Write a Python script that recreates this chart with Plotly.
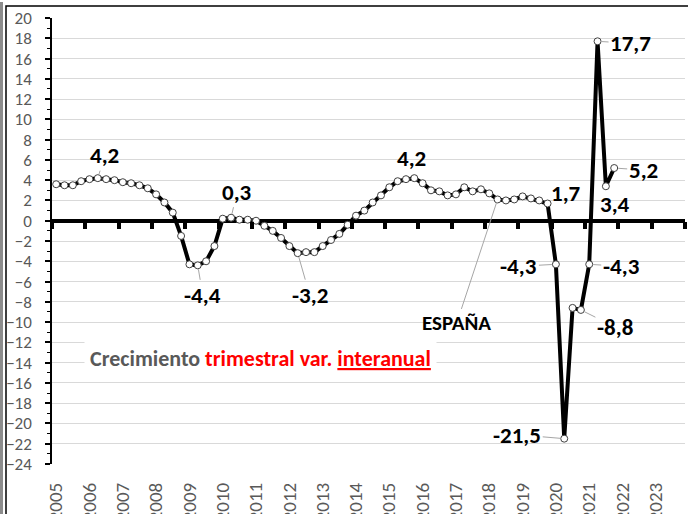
import plotly.graph_objects as go

# ---- data (quarterly, 2005 T1 .. 2021 T4) ----
years = ["2005", "2006", "2007", "2008", "2009", "2010", "2011", "2012", "2013",
         "2014", "2015", "2016", "2017", "2018", "2019", "2020", "2021", "2022", "2023"]
espana = [3.6, 3.5, 3.5, 3.9, 4.1, 4.2, 4.1, 4.0,      # 2005-2006
          3.8, 3.7, 3.5, 3.2, 2.6, 1.8, 0.8, -1.5,     # 2007-2008
          -4.3, -4.4, -4.0, -2.5, 0.2, 0.3, 0.1, 0.1,  # 2009-2010
          0.0, -0.5, -1.0, -1.7, -2.5, -3.2, -3.1, -3.1,  # 2011-2012
          -2.5, -1.9, -1.3, -0.4, 0.5, 1.0, 1.8, 2.5,  # 2013-2014
          3.3, 3.9, 4.1, 4.2, 3.7, 3.0, 2.9, 2.5,      # 2015-2016
          2.6, 3.3, 2.9, 3.1, 2.7, 2.1, 2.0, 2.1,      # 2017-2018
          2.4, 2.2, 2.0, 1.7, -4.3, -21.5, -8.6, -8.8, # 2019-2020
          -4.3, 17.7, 3.4, 5.2]                        # 2021
n_cat = 4 * len(years)          # all quarters on the axis (through 2023)
xq = list(range(len(espana)))

# labelled points: index -> (ax, ay) offset in px
labels = {5: (7, -23), 17: (5, 30), 21: (6, -26), 29: (12, 42), 43: (-3, -20),
          59: (18, -11), 60: (-37, 2), 61: (-47, -4), 63: (34, 17), 64: (32, 2),
          65: (33, 2), 66: (9, 18), 67: (29, 2)}
no_leader = {43, 59, 66}

FONT = "Carlito, Lato, sans-serif"
GRAY = "#595959"

fig = go.Figure()
fig.add_trace(go.Scatter(
    x=xq, y=espana, mode="lines+markers",
    line=dict(color="black", width=4),
    marker=dict(size=7, color="white", line=dict(color="#404040", width=1)),
    showlegend=False, hoverinfo="skip"))
# invisible trace for the tick-only axis at y=0
fig.add_trace(go.Scatter(x=[xq[0]], y=[espana[0]], xaxis="x2", mode="markers",
                         marker=dict(opacity=0), showlegend=False, hoverinfo="skip"))

ann = []
for i, (ax, ay) in labels.items():
    txt = f"{espana[i]:.1f}".replace(".", ",")
    if i in no_leader:
        ann.append(dict(x=i, y=espana[i], text=txt, showarrow=False,
                        xshift=ax, yshift=-ay,
                        font=dict(family=FONT, size=23, color="black", weight="bold")))
    else:
        ann.append(dict(x=i, y=espana[i], text=txt, showarrow=True, arrowhead=0,
                        arrowwidth=1, arrowcolor="#a6a6a6", ax=ax, ay=ay, standoff=4,
                        font=dict(family=FONT, size=23, color="black", weight="bold")))
ann.append(dict(x=53, y=espana[53], text="<b>ESPAÑA</b>", showarrow=True, arrowhead=0,
                arrowwidth=1, arrowcolor="#a6a6a6", ax=-41, ay=124, standoff=3,
                font=dict(family=FONT, size=21, color="black")))
ann.append(dict(xref="paper", yref="paper", x=(260.5 - 52) / 633, y=(464 - 358) / 446,
                xanchor="center", yanchor="middle", showarrow=False,
                text="<b><span style='color:#595959'>Crecimiento</span> "
                     "<span style='color:#ff0000'>trimestral var. <u>interanual</u></span></b>",
                bgcolor="white", borderpad=5,
                font=dict(family=FONT, size=22)))

fig.update_layout(
    width=688, height=514,
    margin=dict(l=52, r=3, t=18, b=50),
    paper_bgcolor="white", plot_bgcolor="white",
    font=dict(family=FONT, color=GRAY),
    xaxis=dict(range=[-0.5, n_cat - 0.5], tickvals=list(range(0, n_cat, 4)),
               ticktext=years, tickangle=-90, ticks="", showgrid=False,
               zeroline=False, showline=False, ticklabelstandoff=14, automargin=False,
               tickfont=dict(family=FONT, size=19, color=GRAY)),
    xaxis2=dict(range=[-0.5, n_cat - 0.5], overlaying="x", anchor="free",
                position=24 / 44, side="bottom", automargin=False,
                tickvals=[v - 0.5 for v in range(0, n_cat + 1, 4)],
                ticks="outside", ticklen=7, tickwidth=4, tickcolor="black",
                showticklabels=False, showgrid=False, zeroline=False, showline=False),
    yaxis=dict(range=[-24, 20], dtick=2, showgrid=True, gridcolor="#d9d9d9", gridwidth=1,
               zeroline=True, zerolinecolor="black", zerolinewidth=4,
               showline=True, linecolor="black", linewidth=1.5, automargin=False,
               ticks="outside", ticklen=5, tickcolor="black", tickwidth=1.5,
               minor=dict(dtick=1, ticks="outside", ticklen=3, tickcolor="black", tickwidth=1),
               ticklabelstandoff=10,
               tickfont=dict(family=FONT, size=17, color=GRAY)),
    annotations=ann,
    shapes=[
        dict(type="rect", xref="paper", yref="paper",
             x0=(6 - 52) / 633, x1=1.2, y0=-0.3, y1=(464 - 6) / 446,
             line=dict(color="black", width=1.5), layer="below"),
        dict(type="line", xref="paper", yref="paper",
             x0=(1.5 - 52) / 633, x1=(1.5 - 52) / 633, y0=-0.3, y1=(464 - 2) / 446,
             line=dict(color="#8c8c8c", width=3)),
    ],
)

fig.write_html("out.html", config={"displayModeBar": False},
               post_script="document.body.style.margin='0px';document.body.style.overflow='hidden';")
